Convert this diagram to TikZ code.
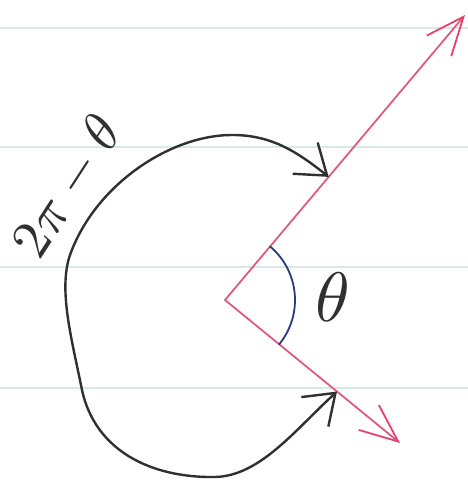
\documentclass[tikz,border=0pt]{standalone}
\usepackage{graphicx}
\usetikzlibrary{arrows.meta,calc}
\definecolor{ruling}{HTML}{D6EAE6}
\definecolor{vecred}{HTML}{DE5A7E}
\definecolor{tipred}{HTML}{E8406E}
\definecolor{arcblue}{HTML}{2C3A78}
\definecolor{pencil}{HTML}{303030}
\tikzset{
  rule/.style={ruling, line width=2pt},
  vec/.style={vecred, line width=1.8pt, line cap=round,
    -{Straight Barb[length=38pt,width=32pt,line width=1.8pt,color=tipred]}},
  anglearc/.style={arcblue, line width=1.8pt, line cap=round},
  turn/.style={pencil, line width=2.4pt, line cap=round,
    {Straight Barb[length=28pt,width=40pt,line width=2.4pt]}-{Straight Barb[length=28pt,width=40pt,line width=2.4pt]}},
  lbl/.style={pencil, inner sep=0pt}
}
\begin{document}
\begin{tikzpicture}[x=1pt,y=-1pt]
\useasboundingbox[fill=white] (0,0) rectangle (468,482);
% ruled paper
\draw[rule] (0,28) -- (468,28);
\draw[rule] (0,147) -- (468,147);
\draw[rule] (0,267) -- (468,267);
\draw[rule] (0,388) -- (468,388);
% vectors
\coordinate (O) at (225,300);
\coordinate (A) at (465,15);
\coordinate (B) at (400,443);
\draw[vec] (O) -- (A);
\draw[vec] (O) -- (B);
% angle theta
\draw[anglearc] (O) ++(-49.9:70) arc[start angle=-49.9, end angle=39.3, radius=70];
\node[lbl] (th) at (333,297) {\scalebox{7}{$\theta$}};
% reflex angle
\coordinate (U) at ($(O)!0.432!(A)$);
\coordinate (L) at ($(O)!0.64!(B)$);
\draw[turn] (U) .. controls (295,150) and (270,135) .. (232,135)
  .. controls (170,135) and (95,185) .. (70,255)
  .. controls (58,290) and (72,340) .. (82,390)
  .. controls (95,450) and (150,478) .. (215,477)
  .. controls (260,476) and (295,430) .. (L);
\node[lbl, rotate=57] (rt) at (68,187) {\scalebox{5.5}{$2\pi-\theta$}};
\end{tikzpicture}
\end{document}
